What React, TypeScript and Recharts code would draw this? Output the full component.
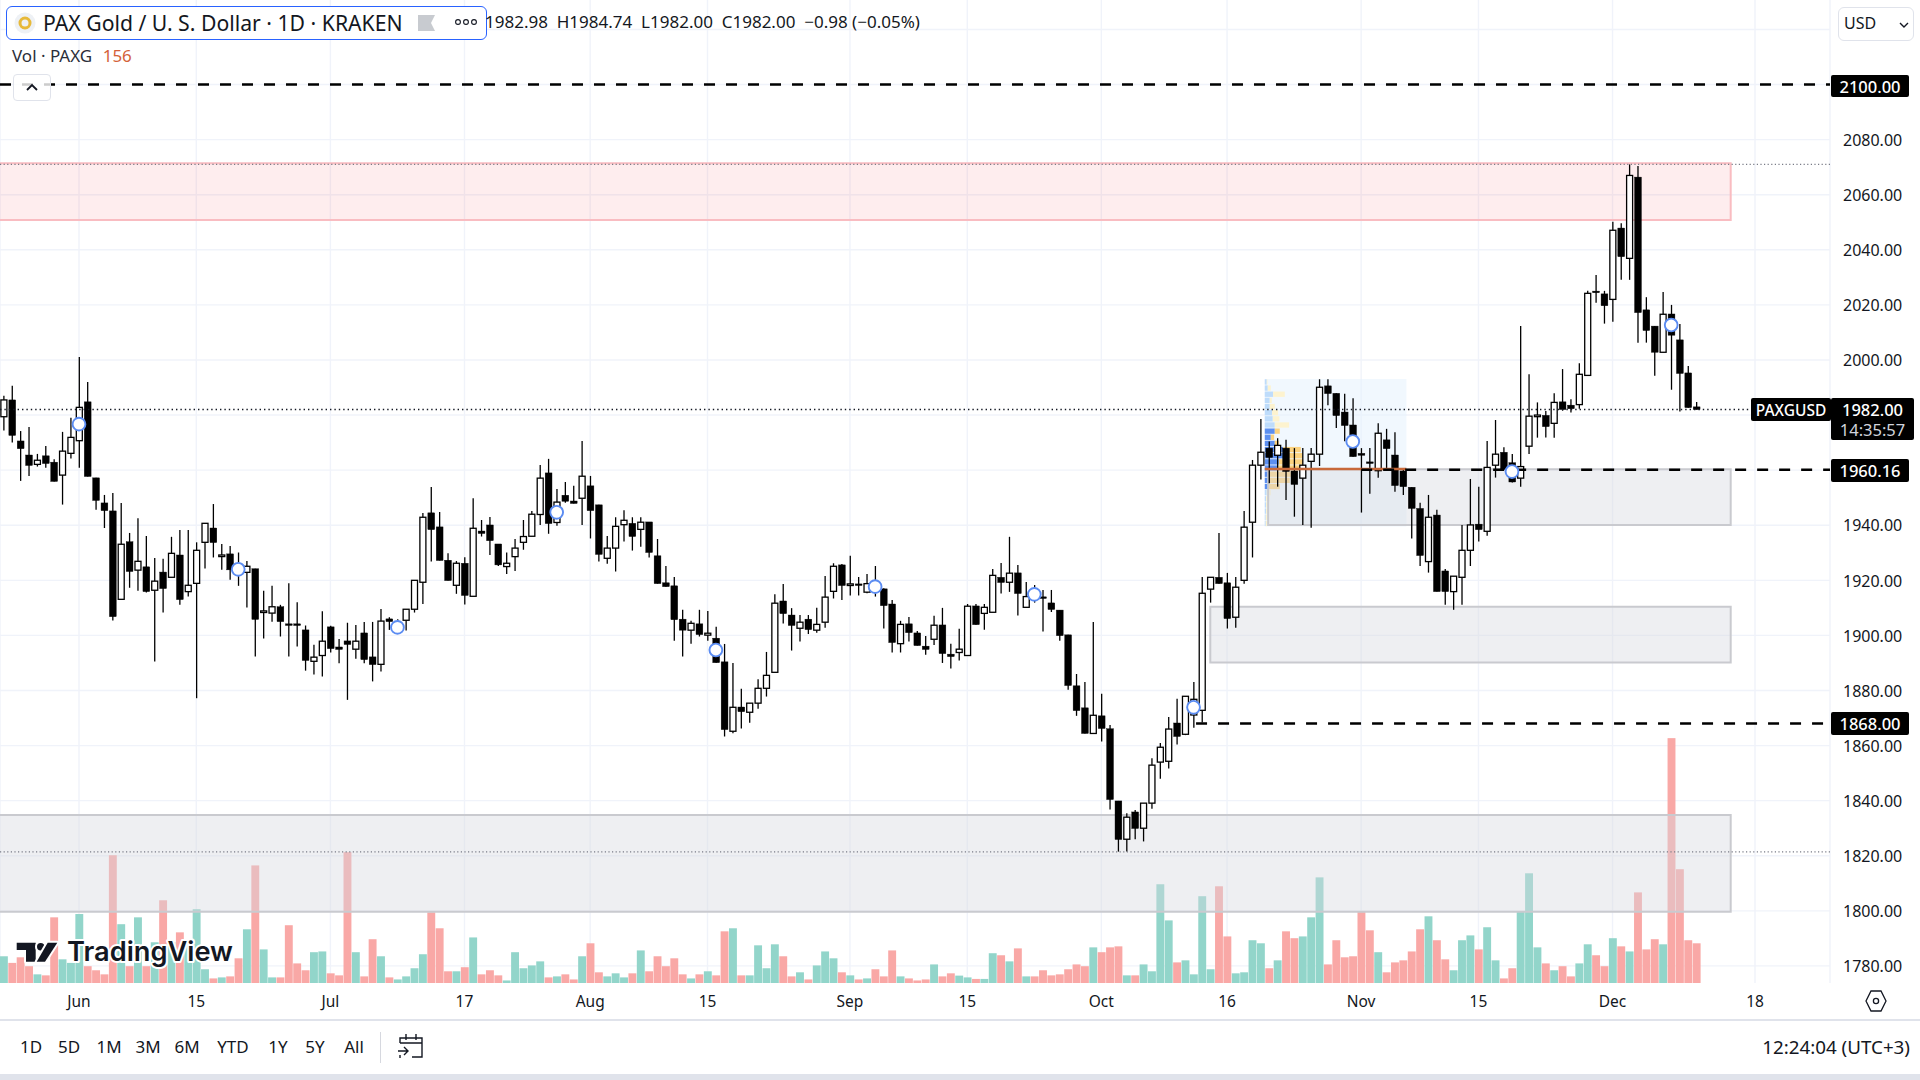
import React from "react";
import {
  ComposedChart,
  Bar,
  Scatter,
  XAxis,
  YAxis,
  CartesianGrid,
  ReferenceArea,
  ReferenceLine,
} from "recharts";

// days are counted from 1 June, first candle is day -9
const FIRST_DAY = -9;

const opens = [
  1979.4, 1985.5, 1970.6, 1965.5, 1962.1, 1965.2, 1962.9, 1958.2, 1966.1, 1970.7,
  1984.8, 1957.2, 1948.1, 1945.2, 1913.1, 1934, 1923.7, 1924.9, 1916.4, 1923,
  1921.1, 1929.2, 1915.9, 1918.9, 1933.8, 1939, 1929, 1929.6, 1926.2, 1922.9,
  1924.2, 1908.7, 1908.1, 1910.4, 1904.2, 1904.2, 1902, 1890.6, 1892.7, 1903.1,
  1895.8, 1898, 1895, 1900.9, 1892.2, 1889.5, 1906, 1901.4, 1905.5, 1909.5,
  1919.3, 1944.5, 1939.4, 1927.3, 1918.2, 1926.2, 1914.2, 1937.9, 1940.1, 1933.2,
  1925, 1928.6, 1933.8, 1936, 1943.9, 1959, 1941, 1950.9, 1948.8, 1949.8,
  1954.3, 1947.4, 1928, 1931.7, 1940.2, 1940.7, 1938.5, 1941.2, 1928.9, 1919.1,
  1918, 1905.9, 1901.9, 1904.2, 1900.1, 1899, 1890.4, 1865.2, 1874, 1872.1,
  1875.4, 1880.8, 1886.6, 1912.5, 1907.4, 1902.6, 1905.9, 1901.9, 1904.8, 1916,
  1925.6, 1918.5, 1918.7, 1915.7, 1919.5, 1916.9, 1911.4, 1897, 1904.2, 1900.9,
  1896.1, 1898.6, 1903.8, 1893.2, 1893.8, 1892.7, 1910.7, 1908, 1908.4, 1921.1,
  1919.3, 1922.7, 1910.2, 1915.9, 1914, 1911.8, 1909.2, 1900.2, 1881.7, 1873.7,
  1864.4, 1870.8, 1866.1, 1839.9, 1826, 1835.9, 1830, 1839.1, 1854, 1854.3,
  1868.2, 1864.1, 1871.1, 1872.8, 1916.8, 1921.1, 1919.1, 1906.6, 1920, 1941.1,
  1961.8, 1968, 1965.4, 1968, 1959.7, 1957.1, 1963.2, 1965.8, 1990.6, 1987.9,
  1981.1, 1976.4, 1966.1, 1963, 1959.8, 1971, 1965.5, 1959.7, 1953.8, 1946.1,
  1926.8, 1943.7, 1923.4, 1915.9, 1921.1, 1930.9, 1940.4, 1937.8, 1961.8, 1966.5,
  1962.7, 1957.1, 1968.7, 1979.8, 1979.9, 1977, 1984.8, 1983.6, 1983.8, 1994.4,
  2025, 2024, 2022, 2047.9, 2036.9, 2066.4, 2018.2, 2012.3, 2002.8, 2016.7,
  2007.3, 1995.3, 1982.98,
];

const highs = [
  1987, 1990.6, 1974.2, 1975.7, 1965.9, 1968.8, 1964, 1973.9, 1979, 2001.1,
  1992, 1957.2, 1951, 1951.7, 1948.1, 1937.2, 1942.5, 1936.1, 1928.1, 1927.8,
  1935.8, 1938.3, 1938.3, 1933.8, 1940.7, 1947.7, 1933.2, 1932.5, 1930.1, 1927,
  1924.2, 1916.2, 1918, 1911.1, 1918.9, 1912, 1903.6, 1896.6, 1908.8, 1903.5,
  1898.7, 1904.6, 1903.8, 1904.9, 1904.9, 1909.6, 1906.6, 1905.9, 1909.5, 1920,
  1944.4, 1953.9, 1944.8, 1929.8, 1927, 1928.4, 1949.8, 1941.9, 1943, 1933.2,
  1930.1, 1935, 1941.9, 1945.2, 1961.9, 1964.1, 1953.2, 1955.7, 1954.3, 1970.6,
  1957.9, 1947.4, 1936.1, 1942.9, 1945.4, 1942.9, 1942.9, 1941.2, 1935, 1925.2,
  1921.2, 1909.3, 1905.3, 1909.3, 1908.9, 1903.1, 1896.9, 1890, 1880.6, 1875.4,
  1884.1, 1894, 1914.9, 1918.7, 1909.9, 1907.4, 1907.4, 1910, 1921.6, 1926.2,
  1925.9, 1928.9, 1921.2, 1922.3, 1925.2, 1917.1, 1912.9, 1905.3, 1906.7, 1901.6,
  1899.8, 1907.1, 1910, 1897, 1902.4, 1911.4, 1911.4, 1911.4, 1924.1, 1926.3,
  1935.8, 1925.6, 1919.4, 1918.3, 1916.5, 1916.5, 1909.2, 1900.2, 1886, 1883.1,
  1904.9, 1878.8, 1867.5, 1839.9, 1835.4, 1836.6, 1839.1, 1855.4, 1860.9, 1870.4,
  1877, 1877.9, 1883.1, 1921.2, 1921.1, 1937.2, 1922.7, 1921.2, 1945.2, 1963.7,
  1978.6, 1970.4, 1971.6, 1971, 1968, 1968, 1968, 1993, 1993, 1987.9,
  1987.7, 1986.1, 1968, 1968, 1977, 1975, 1973.8, 1960.7, 1953.8, 1948.2,
  1951, 1945.6, 1924.1, 1921.5, 1940.1, 1956.8, 1954, 1970.6, 1978.2, 1968.3,
  1965.9, 2012.3, 1994.8, 1984.6, 1981.5, 1987.9, 1996.7, 1985.7, 1998.8, 2025.1,
  2030.9, 2025.1, 2050.2, 2049.6, 2071, 2070.4, 2022.8, 2012.3, 2024.7, 2020,
  2013.1, 1997.8, 1984.74,
];

const lows = [
  1974.4, 1970, 1956.1, 1957.9, 1961.3, 1960.9, 1955.9, 1947.5, 1964.2, 1960.9,
  1957.7, 1945.6, 1939, 1905.4, 1913.1, 1917.3, 1916.2, 1915.6, 1890.5, 1908.3,
  1921.1, 1911.1, 1914.1, 1877.2, 1924.3, 1928.3, 1923.8, 1920.2, 1918, 1910.1,
  1892.3, 1898.9, 1905, 1899.6, 1892.3, 1896, 1887.2, 1885.8, 1885.1, 1893.8,
  1889.9, 1876.6, 1891.5, 1889.9, 1883.3, 1886.9, 1902, 1900.8, 1901.8, 1908.3,
  1911.4, 1926.8, 1927.2, 1919.9, 1915.1, 1911.2, 1914.2, 1935.9, 1929.2, 1925.2,
  1922.3, 1923.4, 1931.1, 1936, 1940.1, 1936.9, 1939.8, 1948.2, 1947.9, 1940.1,
  1935.2, 1926.8, 1926, 1923.2, 1934.1, 1930.8, 1932.2, 1928.3, 1918.8, 1917.7,
  1898.1, 1892.3, 1897, 1899.6, 1898.1, 1890.1, 1863.3, 1864.5, 1866.2, 1868.3,
  1873.4, 1877.8, 1886.6, 1904.3, 1894.5, 1897.8, 1900.5, 1901, 1902.8, 1913.4,
  1912.9, 1914.5, 1914.5, 1915.3, 1914.1, 1902.5, 1893.8, 1893.8, 1897.8, 1896.3,
  1893, 1896.5, 1890, 1888, 1890.9, 1892.7, 1903.9, 1902.1, 1908.4, 1915.2,
  1915.8, 1907.2, 1910.2, 1911.9, 1901.4, 1908.5, 1898.1, 1880.3, 1870.8, 1864.4,
  1864.4, 1861.5, 1836.8, 1821.5, 1821.5, 1826, 1825.2, 1837.1, 1848, 1851.7,
  1860.4, 1863.8, 1866.5, 1868.4, 1911.9, 1918.8, 1902.5, 1902.8, 1918.8, 1928.3,
  1956.6, 1955.2, 1954, 1949.2, 1943.1, 1940.1, 1939.1, 1961.5, 1983.6, 1975.3,
  1970.5, 1964.9, 1944.6, 1951.4, 1957.2, 1960.1, 1952.2, 1951, 1935.2, 1925.2,
  1922.8, 1915.9, 1911.1, 1909.3, 1911.1, 1925.2, 1934.1, 1936.2, 1957.3, 1960.1,
  1955.5, 1954, 1965.9, 1971.8, 1971.9, 1971.8, 1981.6, 1980.9, 1982.3, 1994.4,
  2020.8, 2013.2, 2013.9, 2029.1, 2029.1, 2006.3, 2006.3, 1994.3, 2002.8, 1989.2,
  1981.3, 1982.7, 1982,
];

const closes = [
  1985.5, 1972.6, 1967.8, 1961.7, 1963.6, 1962.4, 1955.9, 1966.9, 1971.9, 1982.8,
  1957.7, 1949, 1945.3, 1906.8, 1933.1, 1923.2, 1926.9, 1915.9, 1919.7, 1917,
  1929.8, 1913, 1918.2, 1930.9, 1940.7, 1933.7, 1929.2, 1923.8, 1922.3, 1925.1,
  1905.8, 1908.9, 1910.4, 1905, 1904, 1903.6, 1890.9, 1892.1, 1897.9, 1895.2,
  1894.9, 1896.7, 1897.9, 1891.2, 1889.4, 1905.2, 1905, 1904.7, 1909.5, 1920,
  1942.9, 1938.4, 1927.2, 1919.9, 1926.2, 1914.5, 1938.9, 1937, 1934.4, 1925.6,
  1926.2, 1931.7, 1935.9, 1944, 1957.1, 1940.6, 1948.4, 1948.7, 1947.9, 1957.8,
  1945.3, 1929.4, 1931.7, 1939.6, 1941.8, 1935.9, 1941.1, 1930.1, 1918.8, 1917.7,
  1905.7, 1901.9, 1904.4, 1900.3, 1900.8, 1890.1, 1865.8, 1873.9, 1872.3, 1875.4,
  1880.8, 1885.5, 1911.7, 1907.9, 1903.6, 1904.8, 1902.1, 1904, 1913.9, 1925.1,
  1918.1, 1918.7, 1918.5, 1918.8, 1915.9, 1910.8, 1897.4, 1904, 1901, 1896.3,
  1894.9, 1903.7, 1893.4, 1892.3, 1895, 1910.6, 1903.9, 1910.2, 1921.8, 1919.2,
  1922.6, 1915.2, 1914.1, 1913.8, 1913.4, 1909.4, 1899.9, 1881.8, 1872.7, 1864.4,
  1871, 1866.2, 1840.4, 1825.9, 1834, 1829.9, 1839.1, 1852.9, 1859.4, 1866,
  1863.3, 1877.9, 1876.8, 1915.3, 1921.1, 1918.8, 1906.1, 1917.5, 1939.3, 1961.8,
  1966.5, 1964.6, 1969, 1959.5, 1954.8, 1961.8, 1965.8, 1990.1, 1987.8, 1979.8,
  1976.2, 1964.9, 1965.4, 1962.8, 1973.4, 1967.8, 1954.4, 1954, 1946.1, 1929,
  1942.9, 1915.9, 1915.9, 1921.5, 1930.9, 1940.1, 1938.4, 1961, 1965.8, 1960.4,
  1955.7, 1961.3, 1979.6, 1980, 1975.8, 1984.6, 1982, 1982.3, 1994.8, 2024.2,
  2024.8, 2019.7, 2047.1, 2037.5, 2067, 2017.2, 2010.7, 2002.8, 2016.6, 2009,
  1995.1, 1982.7, 1982,
];

const volumes = [
  105, 79, 101, 66, 34, 30, 258, 93, 79, 271,
  66, 50, 34, 502, 231, 66, 258, 66, 160, 325,
  160, 199, 160, 290, 54, 18, 22, 26, 97, 211,
  462, 132, 22, 22, 227, 77, 50, 121, 124, 38,
  30, 514, 121, 26, 172, 105, 22, 14, 26, 58,
  113, 278, 215, 46, 46, 62, 179, 34, 50, 30,
  10, 121, 58, 69, 85, 22, 26, 34, 14, 105,
  156, 42, 26, 38, 22, 38, 128, 46, 105, 66,
  97, 34, 18, 34, 46, 30, 203, 215, 30, 30,
  148, 58, 152, 105, 26, 42, 14, 69, 124, 97,
  42, 30, 14, 18, 54, 26, 128, 26, 18, 10,
  14, 73, 26, 38, 29, 22, 16, 16, 117, 109,
  85, 136, 26, 26, 50, 30, 34, 54, 73, 66,
  140, 121, 140, 144, 30, 30, 73, 46, 388, 246,
  81, 89, 34, 341, 54, 380, 183, 38, 42, 168,
  156, 58, 89, 203, 176, 183, 258, 415, 73, 168,
  101, 105, 282, 207, 121, 42, 81, 89, 124, 211,
  262, 168, 93, 50, 168, 187, 132, 219, 89, 18,
  58, 282, 431, 140, 77, 50, 66, 26, 77, 152,
  109, 66, 176, 144, 124, 356, 132, 172, 152, 962,
  447, 168, 156,
];

// 1960, 1980 and 2100 sit under the price tags, so they only get a grid line
const priceTicks = [1780, 1800, 1820, 1840, 1860, 1880, 1900, 1920, 1940, 2000, 2020, 2040, 2060, 2080];
const priceGrid = [1780, 1800, 1820, 1840, 1860, 1880, 1900, 1920, 1940, 1960, 1980, 2000, 2020, 2040, 2060, 2080, 2100, 2120];
const dayTicks = [0, 14, 30, 46, 61, 75, 92, 106, 122, 137, 153, 167, 183, 200];
const dayLabels = ["Jun", "15", "Jul", "17", "Aug", "15", "Sep", "15", "Oct", "16", "Nov", "15", "Dec", "18"];

const markDays = [0, 19, 38, 57, 76, 95, 114, 133, 152, 171, 190];
const markPrices = [1976.7, 1924, 1902.9, 1944.7, 1894.7, 1917.7, 1914.9, 1873.9, 1970.4, 1959.5, 2012.7];

// volume profile rows, top to bottom
const profileUp = [6, 9, 25, 15, 15, 22, 24, 30, 30, 18, 30, 55, 55, 42, 40, 15, 15, 10, 6, 4, 4, 4, 3, 3];
const profileDown = [2, 9, 35, 6, 15, 18, 20, 43, 15, 10, 12, 53, 57, 73, 75, 63, 60, 35, 12, 10, 5, 6, 6, 4];
const PROFILE_TOP = 1993.1;
const PROFILE_BOTTOM = 1939.5;
const PROFILE_START = 141.5;
const PROFILE_END = 158.4;
const PROFILE_STEP = (PROFILE_TOP - PROFILE_BOTTOM) / profileUp.length;
const PROFILE_SCALE = 0.0398;

const rows = opens.map((open, i) => ({
  day: FIRST_DAY + i,
  open,
  high: highs[i],
  low: lows[i],
  close: closes[i],
  volume: volumes[i],
}));
const marks = markDays.map((day, i) => ({ day, price: markPrices[i] }));

const DAY_DOMAIN = [-9.427, 208.95];
const PRICE_DOMAIN = [1773.8, 2130.7];
const FONT = '"Noto Sans", sans-serif';
const INK = "#131722";

const Candle = (props: any) => {
  const { x, y, width, height, payload } = props;
  const { open, high, low, close } = payload;
  const cx = x + width / 2;
  const unit = height / (high - low);
  const top = y + (high - Math.max(open, close)) * unit;
  const bottom = y + (high - Math.min(open, close)) * unit;
  const up = close >= open;
  return (
    <g>
      <line x1={cx} x2={cx} y1={y} y2={y + height} stroke="#000" strokeWidth={1.3} />
      <rect
        x={cx - (up ? 3 : 3.4)}
        y={top}
        width={up ? 6 : 6.8}
        height={Math.max(bottom - top, 1.6)}
        fill={up ? "#fff" : "#000"}
        stroke="#000"
        strokeWidth={up ? 1.3 : 0.4}
      />
    </g>
  );
};

const VolumeBar = (props: any) => {
  const { x, y, width, height, payload } = props;
  return (
    <rect
      x={x + width / 2 - 3.95}
      y={y}
      width={7.9}
      height={height}
      fill={payload.close >= payload.open ? "#92d5ca" : "#f9a8a6"}
    />
  );
};

const Mark = (props: any) => (
  <circle cx={props.cx} cy={props.cy} r={6.4} fill="#fff" stroke="#5b8cf2" strokeWidth={1.9} />
);

const Tag = ({ top, height = 22, left = 1831, width = 78, size = 16.5, children }: any) => (
  <div
    style={{
      position: "absolute",
      left,
      top,
      width,
      height,
      background: "#000",
      color: "#fff",
      borderRadius: 2,
      fontSize: size,
      fontWeight: 500,
      lineHeight: `${height + 1}px`,
      textAlign: "center",
    }}
  >
    {children}
  </div>
);

const zoneProps = {
  xAxisId: "time",
  yAxisId: "price",
  ifOverflow: "visible" as const,
  fill: "#d7d8e1",
  fillOpacity: 0.42,
  stroke: "#c9cacf",
  strokeWidth: 2,
};

const Range = ["1D", "5D", "1M", "3M", "6M", "YTD", "1Y", "5Y", "All"];
const rangeX = [31, 69, 109, 148, 187, 233, 278, 315, 354];

export default function App() {
  return (
    <div
      style={{
        position: "relative",
        width: 1920,
        height: 1080,
        overflow: "hidden",
        background: "#fff",
        fontFamily: FONT,
        color: INK,
      }}
    >
      <style>{`body{margin:0}`}</style>

      {/* lower chart: grid, axes and volume, the zones have to lie over the bars */}
      <div style={{ position: "absolute", left: 0, top: 0 }}>
        <ComposedChart
          width={1920}
          height={1020}
          data={rows}
          margin={{ top: 0, right: 0, bottom: 0, left: 0 }}
        >
          <CartesianGrid
            xAxisId="time"
            yAxisId="price"
            stroke="#f0f3fa"
            strokeWidth={1.4}
            horizontalValues={priceGrid}
          />
          <XAxis
            xAxisId="time"
            dataKey="day"
            type="number"
            domain={DAY_DOMAIN}
            allowDataOverflow
            ticks={dayTicks}
            interval={0}
            tickFormatter={(v: number) => dayLabels[dayTicks.indexOf(v)]}
            height={37}
            tickLine={false}
            axisLine={false}
            tick={{ fill: INK, fontSize: 15.5, fontFamily: FONT }}
            tickMargin={7}
          />
          <YAxis
            yAxisId="price"
            orientation="right"
            domain={PRICE_DOMAIN}
            allowDataOverflow
            ticks={priceTicks}
            interval={0}
            width={90}
            tickFormatter={(v: number) => v.toFixed(2)}
            tickLine={false}
            axisLine={false}
            tick={{ fill: INK, fontSize: 16, fontFamily: FONT, dy: 0.5 }}
            tickMargin={7}
          />
          <YAxis yAxisId="volume" domain={[0, 3862]} allowDataOverflow hide />

          <Bar
            xAxisId="time"
            yAxisId="volume"
            dataKey="volume"
            barSize={7}
            shape={<VolumeBar />}
            isAnimationActive={false}
          />
        </ComposedChart>
      </div>

      {/* upper chart: zones, levels, candles */}
      <div style={{ position: "absolute", left: 0, top: 0 }}>
        <ComposedChart
          width={1920}
          height={1020}
          data={rows}
          margin={{ top: 0, right: 90, bottom: 37, left: 0 }}
        >
          <XAxis
            xAxisId="time"
            dataKey="day"
            type="number"
            domain={DAY_DOMAIN}
            allowDataOverflow
            hide
          />
          <YAxis yAxisId="price" domain={PRICE_DOMAIN} allowDataOverflow hide />

          <ReferenceArea
            xAxisId="time"
            yAxisId="price"
            x1={PROFILE_START}
            x2={PROFILE_END}
            y1={PROFILE_BOTTOM}
            y2={PROFILE_TOP}
            fill="#e3f2fd"
            fillOpacity={0.5}
            stroke="none"
          />
          {profileUp.map((up, i) => {
            const inValueArea = i >= 8 && i <= 17;
            const y2 = PROFILE_TOP - i * PROFILE_STEP - 0.1;
            const y1 = y2 - PROFILE_STEP + 0.3;
            const split = PROFILE_START + up * PROFILE_SCALE;
            return (
              <React.Fragment key={i}>
                <ReferenceArea
                  xAxisId="time"
                  yAxisId="price"
                  x1={PROFILE_START}
                  x2={split}
                  y1={y1}
                  y2={y2}
                  fill={inValueArea ? "#5c8ff0" : "#bedcfb"}
                  stroke="none"
                  fillOpacity={1}
                />
                <ReferenceArea
                  xAxisId="time"
                  yAxisId="price"
                  x1={split}
                  x2={split + profileDown[i] * PROFILE_SCALE}
                  y1={y1}
                  y2={y2}
                  fill={inValueArea ? "#fbd27f" : "#fdf3cf"}
                  stroke="none"
                  fillOpacity={1}
                />
              </React.Fragment>
            );
          })}

          <ReferenceArea
            {...zoneProps}
            x1={-12}
            x2={197.1}
            y1={2050.8}
            y2={2071.4}
            fill="#f23645"
            fillOpacity={0.09}
            stroke="#f9bcc1"
          />
          <ReferenceArea {...zoneProps} x1={141.9} x2={197.1} y1={1940.1} y2={1960.3} />
          <ReferenceArea {...zoneProps} x1={135} x2={197.1} y1={1890.2} y2={1910.4} />
          <ReferenceArea {...zoneProps} x1={-12} x2={197.1} y1={1799.7} y2={1834.8} />

          <ReferenceLine
            xAxisId="time"
            yAxisId="price"
            segment={[{ x: PROFILE_START, y: 1960.4 }, { x: PROFILE_END, y: 1960.4 }]}
            stroke="#c8693a"
            strokeWidth={2.4}
          />
          <ReferenceLine xAxisId="time" yAxisId="price" y={1982} stroke="#131722" strokeWidth={1.4} strokeDasharray="1.4 3" />
          <ReferenceLine xAxisId="time" yAxisId="price" y={2071} stroke="#787b86" strokeWidth={1.2} strokeDasharray="1.2 2.4" />
          <ReferenceLine xAxisId="time" yAxisId="price" y={1821.4} stroke="#787b86" strokeWidth={1.2} strokeDasharray="1.2 2.4" />
          <ReferenceLine xAxisId="time" yAxisId="price" y={2100} stroke="#000" strokeWidth={2.4} strokeDasharray="11 11" />
          <ReferenceLine
            xAxisId="time"
            yAxisId="price"
            segment={[{ x: 153, y: 1960.16 }, { x: 208.95, y: 1960.16 }]}
            stroke="#000"
            strokeWidth={2.4}
            strokeDasharray="11 11"
          />
          <ReferenceLine
            xAxisId="time"
            yAxisId="price"
            segment={[{ x: 133.3, y: 1868 }, { x: 208.95, y: 1868 }]}
            stroke="#000"
            strokeWidth={2.4}
            strokeDasharray="11 11"
          />

          <Bar
            xAxisId="time"
            yAxisId="price"
            dataKey={(row: any) => [row.low, row.high]}
            barSize={7}
            shape={<Candle />}
            isAnimationActive={false}
          />
        </ComposedChart>
      </div>

      {/* the blue event marks lie over everything */}
      <div style={{ position: "absolute", left: 0, top: 0 }}>
        <ComposedChart
          width={1920}
          height={1020}
          data={rows}
          margin={{ top: 0, right: 90, bottom: 37, left: 0 }}
        >
          <XAxis
            xAxisId="time"
            dataKey="day"
            type="number"
            domain={DAY_DOMAIN}
            allowDataOverflow
            hide
          />
          <YAxis yAxisId="price" domain={PRICE_DOMAIN} allowDataOverflow hide />
          <Scatter
            xAxisId="time"
            yAxisId="price"
            data={marks}
            dataKey="price"
            shape={<Mark />}
            isAnimationActive={false}
          />
        </ComposedChart>
      </div>

      {/* price tags on the axis */}
      <Tag top={75}>2100.00</Tag>
      <Tag top={459} height={23}>1960.16</Tag>
      <Tag top={712} height={23}>1868.00</Tag>
      <Tag top={398} height={23} left={1751} width={80} size={15.5}>PAXGUSD</Tag>
      <div
        style={{
          position: "absolute",
          left: 1831,
          top: 398,
          width: 83,
          height: 42,
          background: "#000",
          color: "#fff",
          borderRadius: 2,
          textAlign: "center",
          fontSize: 16.5,
          fontWeight: 500,
          lineHeight: "20px",
          paddingTop: 2,
          boxSizing: "border-box",
        }}
      >
        <div>1982.00</div>
        <div style={{ fontWeight: 400, color: "#d1d4dc" }}>14:35:57</div>
      </div>

      {/* legend header */}
      <div
        style={{
          position: "absolute",
          left: 6,
          top: 6,
          width: 479,
          height: 32,
          border: "1.5px solid #2962ff",
          borderRadius: 6,
          background: "#fff",
          boxSizing: "content-box",
        }}
      />
      <svg style={{ position: "absolute", left: 14, top: 12 }} width={22} height={22}>
        <circle cx={11} cy={11} r={10.5} fill="#eef1f5" />
        <circle cx={11} cy={11} r={5} fill="none" stroke="#e7b93a" strokeWidth={3} />
      </svg>
      <div style={{ position: "absolute", left: 43, top: 9, fontSize: 21.2, whiteSpace: "nowrap", lineHeight: "28px" }}>
        PAX Gold / U. S. Dollar · 1D · KRAKEN
      </div>
      <svg style={{ position: "absolute", left: 418, top: 14 }} width={18} height={18}>
        <path d="M0 1H17L13 9L17 17H0Z" fill="#c8cbd0" />
      </svg>
      <svg style={{ position: "absolute", left: 454, top: 17 }} width={24} height={10}>
        <circle cx={4} cy={5} r={2.4} fill="none" stroke="#131722" strokeWidth={1.1} />
        <circle cx={12} cy={5} r={2.4} fill="none" stroke="#131722" strokeWidth={1.1} />
        <circle cx={20} cy={5} r={2.4} fill="none" stroke="#131722" strokeWidth={1.1} />
      </svg>
      <div style={{ position: "absolute", left: 485, top: 11, fontSize: 17, whiteSpace: "nowrap", lineHeight: "22px" }}>
        1982.98 &nbsp;H1984.74 &nbsp;L1982.00 &nbsp;C1982.00 &nbsp;−0.98 (−0.05%)
      </div>
      <div style={{ position: "absolute", left: 12, top: 45, fontSize: 17, whiteSpace: "nowrap", lineHeight: "22px", color: "#2a2e39" }}>
        Vol · PAXG <span style={{ color: "#d4623a", marginLeft: 6 }}>156</span>
      </div>
      <div
        style={{
          position: "absolute",
          left: 13,
          top: 74,
          width: 38,
          height: 27,
          borderRadius: 4,
          border: "1px solid #e0e3eb",
          background: "rgba(255,255,255,0.8)",
          boxSizing: "border-box",
        }}
      >
        <svg width={36} height={25}>
          <path d="M13 15L18 10L23 15" fill="none" stroke="#131722" strokeWidth={1.8} />
        </svg>
      </div>

      {/* currency box */}
      <div
        style={{
          position: "absolute",
          left: 1838,
          top: 7,
          width: 76,
          height: 34,
          borderRadius: 6,
          border: "1px solid #e0e3eb",
          boxSizing: "border-box",
          background: "#fff",
          fontSize: 16,
          lineHeight: "30px",
          paddingLeft: 5,
        }}
      >
        USD
        <svg style={{ position: "absolute", left: 60, top: 13 }} width={10} height={8}>
          <path d="M1 2L5 6L9 2" fill="none" stroke="#131722" strokeWidth={1.4} />
        </svg>
      </div>

      {/* logo */}
      <svg style={{ position: "absolute", left: 0, top: 930 }} width={250} height={50}>
        <g stroke="#fff" strokeWidth={4} strokeLinejoin="round" paintOrder="stroke" fill="#131722">
          <path d="M16.7 12.7H35.7V31.7H26V20H16.7Z" />
          <circle cx={40.7} cy={16.7} r={3.7} />
          <path d="M47.7 12.7H57.3L45 31.7H36.7Z" />
          <text x={67} y={31} fontFamily="Inter, sans-serif" fontWeight={600} fontSize={27} textLength={166} lengthAdjust="spacingAndGlyphs">
            TradingView
          </text>
        </g>
      </svg>

      {/* settings hexagon under the price axis */}
      <svg style={{ position: "absolute", left: 1865, top: 989 }} width={22} height={24}>
        <path d="M6 2H16L21 12L16 22H6L1 12Z" fill="none" stroke="#131722" strokeWidth={1.3} />
        <circle cx={11} cy={12} r={2.6} fill="none" stroke="#131722" strokeWidth={1.3} />
      </svg>

      {/* bottom toolbar */}
      <div style={{ position: "absolute", left: 0, top: 1019, width: 1920, height: 2, background: "#e0e3eb" }} />
      <div style={{ position: "absolute", left: 0, top: 1074, width: 1920, height: 6, background: "#e0e3eb" }} />
      {Range.map((label, i) => (
        <div
          key={label}
          style={{
            position: "absolute",
            left: rangeX[i] - 25,
            width: 50,
            top: 1036,
            textAlign: "center",
            fontSize: 17,
            lineHeight: "22px",
          }}
        >
          {label}
        </div>
      ))}
      <div style={{ position: "absolute", left: 380, top: 1032, width: 1, height: 31, background: "#d6d8df" }} />
      <svg style={{ position: "absolute", left: 397, top: 1032 }} width={28} height={28}>
        <path
          d="M3 11V6H25V25H15M3 11H25M9 2V8M19 2V8M1 19H11M7 15L11 19L7 23M3 23V26"
          fill="none"
          stroke="#131722"
          strokeWidth={1.4}
        />
      </svg>
      <div style={{ position: "absolute", right: 10, top: 1036, fontSize: 18.8, lineHeight: "22px", whiteSpace: "nowrap" }}>
        12:24:04 (UTC+3)
      </div>
    </div>
  );
}
